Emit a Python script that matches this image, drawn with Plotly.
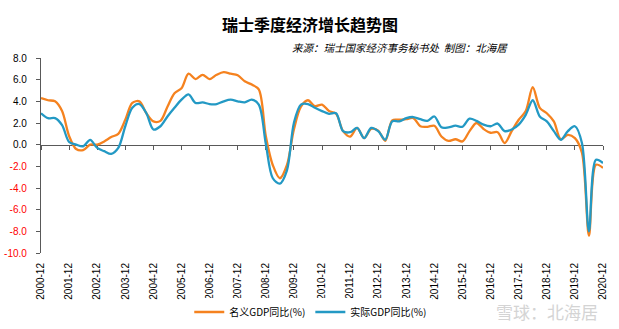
import plotly.graph_objects as go

# quarterly categories 2000-12 .. 2020-12
quarters = ["2000-12"] + [f"{y}-{m}" for y in range(2001, 2021) for m in ("03", "06", "09", "12")]

nominal_gdp = [4.3, 4.1, 4.0, 3.1, 0.8, -0.4, -0.5, 0.0, 0.0, 0.3,
               0.7, 1.0, 2.3, 3.85, 4.0, 2.9, 2.15, 2.2, 3.5, 4.75,
               5.2, 6.55, 6.05, 6.45, 6.05, 6.45, 6.7, 6.55, 6.4, 5.85,
               5.55, 5.1, 0.8, -1.9, -3.1, -1.9, 1.4, 3.5, 4.1, 3.55,
               3.7, 3.1, 2.85, 1.25, 0.75, 1.55, 0.6, 1.45, 1.3, 0.35,
               2.25, 2.3, 2.35, 2.45, 1.7, 1.65, 1.75, 0.75, 0.35, 0.5,
               0.3, 1.25, 2.0, 1.45, 1.1, 1.15, 0.15, 1.25, 2.3, 3.1,
               5.3, 3.4, 2.9, 2.15, 0.5, 0.9, 0.6, -0.75, -8.4, -1.85,
               -2.15]

real_gdp = [2.9, 2.45, 2.45, 1.8, 0.25, 0.0, -0.15, 0.45, -0.3, -0.6,
            -0.85, -0.3, 1.7, 3.4, 3.75, 2.9, 1.4, 1.7, 2.6, 3.4,
            4.15, 4.65, 3.85, 3.9, 3.75, 3.75, 4.0, 4.15, 4.0, 3.9,
            4.15, 3.7, 0.1, -3.1, -3.6, -2.4, 2.0, 3.7, 3.75, 3.4,
            3.1, 2.85, 2.9, 1.25, 1.15, 1.55, 0.6, 1.55, 1.25, 0.45,
            2.15, 2.15, 2.45, 2.55, 2.35, 2.2, 2.6, 1.6, 1.6, 1.75,
            1.65, 2.4, 2.2, 1.85, 1.7, 1.95, 1.25, 1.4, 1.85, 2.75,
            4.1, 2.6, 2.15, 1.25, 0.45, 1.25, 1.7, 0.15, -8.0, -1.4,
            -1.7]

y_ticks = [8.0, 6.0, 4.0, 2.0, 0.0, -2.0, -4.0, -6.0, -8.0, -10.0]

xpos = list(range(len(quarters)))
year_idx = [i for i, q in enumerate(quarters) if q.endswith("-12")]
year_lbl = [quarters[i] for i in year_idx]

y_text = [(f"<span style='color:#FF0000'>{v:.1f}</span>" if v < 0 else f"{v:.1f}") for v in y_ticks]

ORANGE = "#F5821F"
BLUE = "#2399C4"
CJK = "Noto Sans CJK SC"

fig = go.Figure()
fig.add_trace(go.Scatter(x=xpos, y=nominal_gdp, mode="lines", name="名义GDP同比(%)",
                         line=dict(color=ORANGE, width=2.3, shape="spline", smoothing=0.9),
                         xaxis="x", yaxis="y"))
fig.add_trace(go.Scatter(x=xpos, y=real_gdp, mode="lines", name="实际GDP同比(%)",
                         line=dict(color=BLUE, width=2.3, shape="spline", smoothing=0.9),
                         xaxis="x2", yaxis="y"))

ymin, ymax = -10, 8
fig.update_layout(
    width=619, height=329,
    margin=dict(l=41, r=16, t=58, b=76, autoexpand=False),
    paper_bgcolor="white", plot_bgcolor="white",
    showlegend=True,
    legend=dict(orientation="h", x=0.48, xanchor="center", xref="paper",
                yref="container", y=1 - 312 / 329, yanchor="middle",
                font=dict(family=CJK, size=10, color="#000"), itemwidth=30,
                tracegroupgap=0),
    xaxis=dict(range=[0, len(quarters) - 1], tickvals=[xpos[i] for i in year_idx], ticktext=year_lbl,
               tickangle=-90, tickfont=dict(family="Liberation Sans", size=10, color="#000"),
               showline=False, showgrid=False, zeroline=False, ticks="outside", ticklen=5,
               tickcolor="rgba(0,0,0,0)", automargin=False),
    xaxis2=dict(range=[0, len(quarters) - 1], overlaying="x", anchor="free",
                position=(0 - ymin) / (ymax - ymin), tickvals=[xpos[i] for i in year_idx],
                showticklabels=False, showline=True, linecolor="#595959", linewidth=1.3,
                ticks="outside", ticklen=4, tickcolor="#595959", showgrid=False, zeroline=False,
                layer="below traces"),
    yaxis=dict(range=[ymin, ymax], tickvals=y_ticks, ticktext=y_text,
               tickfont=dict(family="Liberation Sans", size=10, color="#000"),
               showline=True, linecolor="#595959", linewidth=1.3, ticks="outside", ticklen=4,
               tickcolor="#595959", showgrid=False, zeroline=False, ticklabelstandoff=7,
               automargin=False),
)

fig.add_annotation(text="<b>瑞士季度经济增长趋势图</b>", xref="paper", yref="paper",
                   x=(310 - 41) / 562, y=(253 - 24) / 195, xanchor="center", yanchor="middle",
                   showarrow=False, font=dict(family=CJK, size=16, color="#000"))
fig.add_annotation(text="<i>来源：瑞士国家经济事务秘书处  制图：北海居</i>", xref="paper", yref="paper",
                   x=(510 - 41) / 562, y=(253 - 48) / 195, xanchor="right", yanchor="middle",
                   showarrow=False, font=dict(family=CJK, size=10.5, color="#000"))
fig.add_annotation(text="雪球：北海居", xref="paper", yref="paper",
                   x=(600 - 41) / 562, y=(253 - 311) / 195, xanchor="right", yanchor="middle",
                   showarrow=False, font=dict(family=CJK, size=17, color="#D4D4D4"))

fig.write_html("out.html")
